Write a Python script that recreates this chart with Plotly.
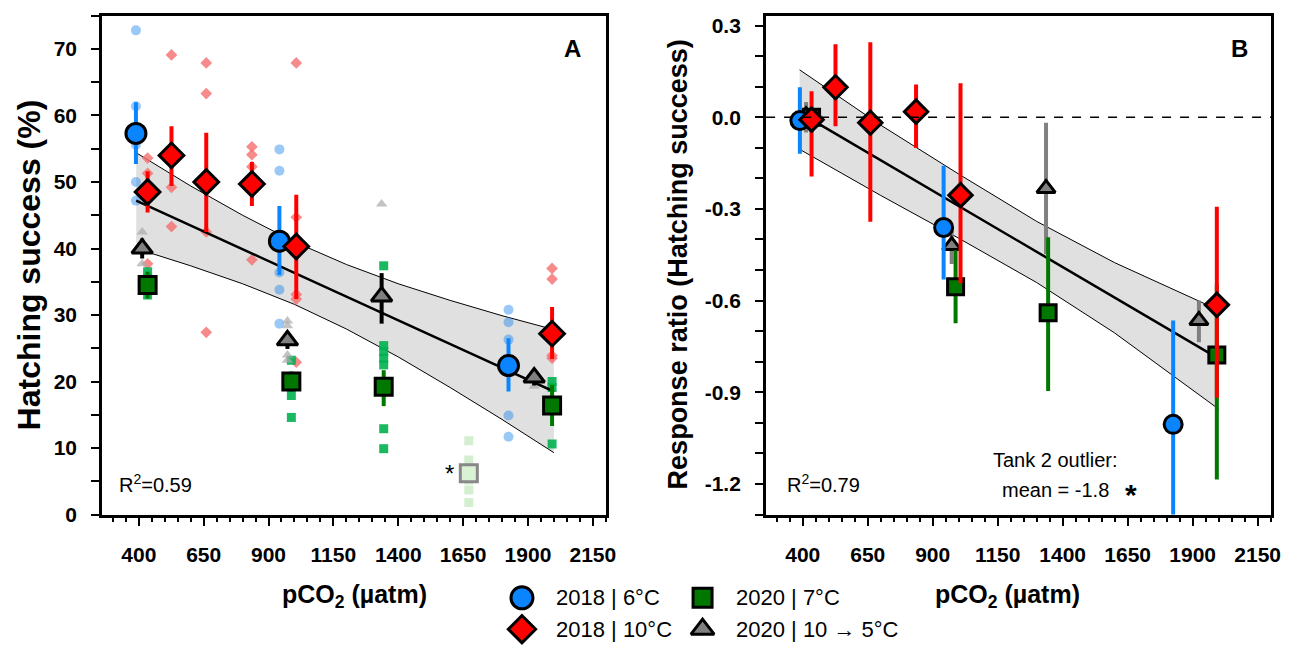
import plotly.graph_objects as go

W, H = 1303, 650

# ---------------- Panel A: hatching success (%) ----------------
# group means and error-bar ends
blue18_x = [389, 942, 1825]
blue18_mean = [57.3, 41.1, 22.4]
blue18_hi = [62.0, 46.4, 26.5]
blue18_lo = [52.7, 36.0, 18.5]

red18_x = [434, 526, 660, 836, 1007, 1993]
red18_mean = [48.5, 54.0, 50.0, 49.7, 40.3, 27.2]
red18_hi = [51.6, 58.4, 57.4, 53.0, 48.1, 31.2]
red18_lo = [45.4, 49.4, 42.5, 46.4, 32.4, 23.4]

green20_x = [434, 988, 1344, 1993]
green20_mean = [34.5, 20.0, 19.2, 16.4]
green20_hi = [36.5, 21.5, 21.7, 19.5]
green20_lo = [32.5, 18.5, 16.3, 13.3]

gray20_x = [413, 973, 1336, 1924]
gray20_mean = [40.0, 26.2, 32.8, 20.6]
gray20_hi = [41.5, 27.5, 36.3, 21.8]
gray20_lo = [38.5, 24.9, 28.7, 19.4]

outlier_x = [1672]
outlier_mean = [6.2]

# individual tank / replicate values
blue18_raw_x = [389, 389, 389, 389, 389, 942, 942, 942, 942, 942, 1825, 1825, 1825, 1825, 1825]
blue18_raw_y = [72.8, 61.4, 55.6, 50.0, 47.2, 54.9, 51.7, 36.4, 33.8, 28.7, 30.8, 28.9, 26.3, 14.9, 11.7]

red18_raw_x = [434, 434, 434, 526, 526, 526, 660, 660, 660, 660, 836, 836, 836, 836,
               1007, 1007, 1007, 1007, 1007, 1993, 1993, 1993, 1993]
red18_raw_y = [53.6, 51.3, 37.7, 69.1, 49.2, 43.3, 67.9, 63.3, 42.5, 27.4, 55.3, 54.1, 52.3, 38.3,
               67.9, 44.7, 33.1, 32.4, 22.9, 37.0, 35.4, 23.5, 23.9]

green20_raw_x = [434, 434, 434, 988, 988, 988, 1344, 1344, 1344, 1344, 1344, 1344, 1344, 1993, 1993, 1993]
green20_raw_y = [36.5, 35.5, 33.0, 23.2, 17.9, 14.6, 37.4, 25.4, 24.5, 23.5, 22.5, 12.9, 9.9, 20.0, 19.1, 10.6]

gray20_raw_x = [413, 413, 973, 973, 973, 973, 1336, 1924]
gray20_raw_y = [42.5, 37.7, 29.1, 28.4, 24.0, 23.2, 46.7, 19.3]

outlier_raw_x = [1672, 1672, 1672, 1672, 1672]
outlier_raw_y = [11.1, 8.2, 5.2, 3.7, 1.8]

# regression line and confidence band
fitA_x = [390, 2000]
fitA_y = [47.2, 18.5]
bandA_x = [390, 600, 800, 1000, 1200, 1400, 1600, 1800, 2000]
bandA_upper = [54.4, 49.4, 45.0, 41.0, 37.6, 34.7, 32.2, 29.9, 27.8]
bandA_lower = [40.0, 37.4, 34.7, 31.6, 27.9, 23.7, 19.1, 14.3, 9.3]

# ---------------- Panel B: response ratio ----------------
blueB_mean = [-0.011, -0.361, -1.005]
blueB_hi = [0.098, -0.159, -0.665]
blueB_lo = [-0.12, -0.531, -1.35]

redB_mean = [-0.008, 0.098, -0.018, 0.018, -0.255, -0.614]
redB_hi = [0.085, 0.239, 0.245, 0.107, 0.111, -0.293]
redB_lo = [-0.194, -0.03, -0.342, -0.101, -0.543, -0.918]

greenB_mean = [0.0, -0.555, -0.640, -0.778]
greenB_hi = [0.02, -0.435, -0.393, -0.547]
greenB_lo = [-0.02, -0.674, -0.896, -1.185]

grayB_mean = [0.005, -0.42, -0.233, -0.665]
grayB_hi = [0.05, -0.36, -0.018, -0.60]
grayB_lo = [-0.05, -0.48, -0.448, -0.736]

fitB_x = [388, 2000]
fitB_y = [0.015, -0.79]
bandB_x = [388, 700, 1000, 1300, 1600, 2000]
bandB_upper = [0.155, -0.026, -0.186, -0.341, -0.476, -0.631]
bandB_lower = [-0.105, -0.256, -0.396, -0.541, -0.706, -0.955]

x_major = [400, 650, 900, 1150, 1400, 1650, 1900, 2150]
yA_major = [0, 10, 20, 30, 40, 50, 60, 70]
yB_major = [0.3, 0.0, -0.3, -0.6, -0.9, -1.2]
yB_labels = ["0.3", "0.0", "-0.3", "-0.6", "-0.9", "-1.2"]

legend_labels = ["2018 | 6°C", "2018 | 10°C", "2020 | 7°C", "2020 | 10 → 5°C"]

# ---------------- styles ----------------
BLUE = "#0a84ff"
RED = "#ff0000"
GREEN = "#007800"
GRAY = "#808080"
FONT = "Liberation Sans, Arial, sans-serif"


def fx(p):
    return p / W


def fy(p):
    return 1 - p / H


def errs(mean, hi, lo):
    return [h - m for m, h in zip(mean, hi)], [m - l for m, l in zip(mean, lo)]


fig = go.Figure()


def add_band(xa, ya, bx, up, lo):
    fig.add_trace(go.Scatter(x=bx, y=up, mode="lines", line=dict(color="black", width=1),
                             xaxis=xa, yaxis=ya, showlegend=False, hoverinfo="skip"))
    fig.add_trace(go.Scatter(x=bx, y=lo, mode="lines", line=dict(color="black", width=1),
                             fill="tonexty", fillcolor="#e0e0e0",
                             xaxis=xa, yaxis=ya, showlegend=False, hoverinfo="skip"))


def add_raw(x, y, symbol, color, size, xa="x", ya="y"):
    fig.add_trace(go.Scatter(x=x, y=y, mode="markers",
                             marker=dict(symbol=symbol, size=size, color=color, line=dict(width=0)),
                             xaxis=xa, yaxis=ya, showlegend=False))


def add_mean(x, mean, hi, lo, symbol, fill, size, barcolor, xa, ya):
    up, dn = errs(mean, hi, lo)
    fig.add_trace(go.Scatter(
        x=x, y=mean, mode="markers",
        marker=dict(symbol=symbol, size=size, color=fill, line=dict(color="black", width=3)),
        error_y=dict(type="data", symmetric=False, array=up, arrayminus=dn,
                     color=barcolor, thickness=4, width=0),
        xaxis=xa, yaxis=ya, showlegend=False))


# ---- Panel A ----
add_band("x", "y", bandA_x, bandA_upper, bandA_lower)
add_raw(blue18_raw_x, blue18_raw_y, "circle", "rgba(30,136,240,0.45)", 10)
add_raw(red18_raw_x, red18_raw_y, "diamond", "rgba(245,110,110,0.8)", 9)
add_raw(green20_raw_x, green20_raw_y, "square", "rgba(0,176,80,0.9)", 9)
add_raw(gray20_raw_x, gray20_raw_y, "triangle-up", "rgba(170,170,170,0.7)", 10)
add_raw(outlier_raw_x, outlier_raw_y, "square", "rgba(200,235,195,0.8)", 9)
fig.add_trace(go.Scatter(x=fitA_x, y=fitA_y, mode="lines", line=dict(color="black", width=2.5),
                         xaxis="x", yaxis="y", showlegend=False))
add_mean(gray20_x, gray20_mean, gray20_hi, gray20_lo, "triangle-up", GRAY, 18, "black", "x", "y")
add_mean(green20_x, green20_mean, green20_hi, green20_lo, "square", GREEN, 17, GREEN, "x", "y")
add_mean(blue18_x, blue18_mean, blue18_hi, blue18_lo, "circle", BLUE, 20, BLUE, "x", "y")
add_mean(red18_x, red18_mean, red18_hi, red18_lo, "diamond", RED, 19, RED, "x", "y")
fig.add_trace(go.Scatter(x=outlier_x, y=outlier_mean, mode="markers",
                         marker=dict(symbol="square", size=17, color="#d9f2d4",
                                     line=dict(color="#888888", width=3)),
                         xaxis="x", yaxis="y", showlegend=False))

# ---- Panel B ----
add_band("x2", "y2", bandB_x, bandB_upper, bandB_lower)
fig.add_trace(go.Scatter(x=fitB_x, y=fitB_y, mode="lines", line=dict(color="black", width=2.5),
                         xaxis="x2", yaxis="y2", showlegend=False))
add_mean(gray20_x, grayB_mean, grayB_hi, grayB_lo, "triangle-up", GRAY, 16, GRAY, "x2", "y2")
add_mean(green20_x, greenB_mean, greenB_hi, greenB_lo, "square", GREEN, 16, GREEN, "x2", "y2")
add_mean(blue18_x, blueB_mean, blueB_hi, blueB_lo, "circle", BLUE, 18, BLUE, "x2", "y2")
add_mean(red18_x, redB_mean, redB_hi, redB_lo, "diamond", RED, 18, RED, "x2", "y2")

# ---- manual legend on its own small axis (pixel units), below the panels ----
LEG_X0, LEG_X1, LEG_Y0, LEG_Y1 = 480, 930, 585, 650
leg_symbols = ["circle", "diamond", "square", "triangle-up"]
leg_fills = [BLUE, RED, GREEN, GRAY]
leg_sizes = [22, 21, 19, 20]
leg_px = [526, 526, 708, 708]
leg_py = [608, 640, 608, 640]
for s, f, sz, lx, ly, lab in zip(leg_symbols, leg_fills, leg_sizes, leg_px, leg_py, legend_labels):
    fig.add_trace(go.Scatter(x=[lx], y=[ly], mode="markers",
                             marker=dict(symbol=s, size=sz, color=f, line=dict(color="black", width=3)),
                             xaxis="x3", yaxis="y3", showlegend=False, hoverinfo="skip",
                             cliponaxis=False))
    fig.add_annotation(x=fx(lx + 32), y=fy(ly), xref="paper", yref="paper",
                       text=lab, showarrow=False, xanchor="left", yanchor="middle",
                       font=dict(family=FONT, size=22, color="black"))

tickfont = dict(family=FONT, size=21, color="black", weight="bold")
common_x = dict(range=[259, 2202], showline=True, linecolor="black", linewidth=3, mirror=True,
                ticks="outside", ticklen=8, tickwidth=2, tickcolor="black",
                tickmode="array", tickvals=x_major, ticktext=[str(v) for v in x_major],
                minor=dict(ticks="outside", dtick=50, tick0=0, ticklen=4, tickwidth=2,
                           tickcolor="black", showgrid=False),
                tickfont=tickfont, ticklabelstandoff=11, showgrid=False, zeroline=False)
common_y = dict(showline=True, linecolor="black", linewidth=3, mirror=True,
                ticks="outside", ticklen=8, tickwidth=2, tickcolor="black",
                tickmode="array", tickfont=tickfont, ticklabelstandoff=10,
                showgrid=False, zeroline=False)

yd = [fy(523), fy(14)]
fig.update_layout(
    width=W, height=H, autosize=False,
    margin=dict(l=0, r=0, t=0, b=0),
    paper_bgcolor="white", plot_bgcolor="white",
    xaxis=dict(domain=[fx(103), fx(611)], anchor="y", **common_x),
    yaxis=dict(domain=yd, anchor="x", range=[0, 75], tickvals=yA_major,
               ticktext=[str(v) for v in yA_major],
               minor=dict(ticks="outside", dtick=5, tick0=0, ticklen=8, tickwidth=2,
                          tickcolor="black", showgrid=False),
               **common_y),
    xaxis2=dict(domain=[fx(772), fx(1281)], anchor="y2", **common_x),
    yaxis2=dict(domain=yd, anchor="x2", range=[-1.30, 0.332], tickvals=yB_major,
                ticktext=yB_labels,
                minor=dict(ticks="outside", dtick=0.1, tick0=0, ticklen=8, tickwidth=2,
                           tickcolor="black", showgrid=False),
                **common_y),
    xaxis3=dict(domain=[fx(LEG_X0), fx(LEG_X1)], range=[LEG_X0, LEG_X1], visible=False,
                fixedrange=True, anchor="y3"),
    yaxis3=dict(domain=[fy(LEG_Y1), fy(LEG_Y0)], range=[LEG_Y1, LEG_Y0], visible=False,
                fixedrange=True, anchor="x3"),
)

# dashed zero line in panel B
fig.add_shape(type="line", xref="x2 domain", yref="y2", x0=0, x1=1, y0=0, y1=0,
              line=dict(color="black", width=1.5, dash="dash"))


def ann(px, py, text, size, bold=False, xanchor="center", textangle=0):
    fig.add_annotation(x=fx(px), y=fy(py), xref="paper", yref="paper", text=text,
                       showarrow=False, xanchor=xanchor, yanchor="middle", textangle=textangle,
                       font=dict(family=FONT, size=size, color="black",
                                 weight="bold" if bold else "normal"))


ann(577, 47, "A", 24, bold=True)
ann(1249, 47, "B", 24, bold=True)
ann(118, 491, "R<sup>2</sup>=0.59", 20, xanchor="left")
ann(791, 491, "R<sup>2</sup>=0.79", 20, xanchor="left")
ann(453, 481, "*", 24)
ann(1064, 467, "Tank 2 outlier:", 20)
ann(1064, 498, "mean = -1.8", 20)
ann(1140, 503, "*", 30, bold=True)
ann(29, 268, "Hatching success (%)", 32, bold=True, textangle=-90)
ann(683, 268, "Response ratio (Hatching success)", 27, bold=True, textangle=-90)
ann(357, 606, "pCO<sub>2</sub> (µatm)", 25, bold=True)
ann(1015, 606, "pCO<sub>2</sub> (µatm)", 25, bold=True)

page_fix = ("var s=document.createElement('style');"
            "s.textContent='html,body{margin:0;padding:0;width:1303px;height:650px;overflow:hidden;}';"
            "document.head.appendChild(s);")
fig.write_html("out.html", config={"responsive": False, "displayModeBar": False},
               post_script=page_fix)
